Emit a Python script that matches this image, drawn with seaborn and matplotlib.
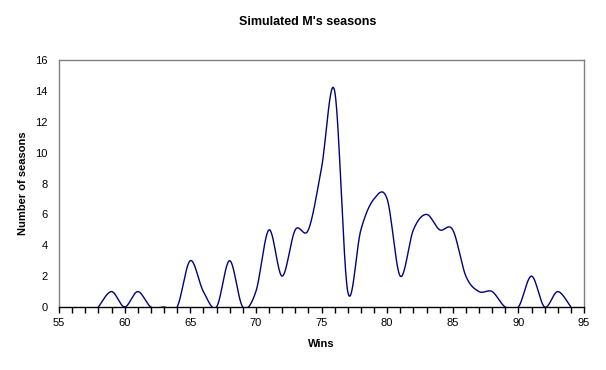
"""Simulated M's seasons - smoothed win distribution (Excel-style line)"""
import numpy as np
import pandas as pd
import matplotlib
matplotlib.use('Agg')
import matplotlib.pyplot as plt
from matplotlib.ticker import MultipleLocator
import seaborn as sns

# ===== DATA =====
wins = [58, 59, 60, 61, 62, 63, 64, 65, 66, 67, 68, 69, 70, 71, 72, 73, 74, 75,
        76, 77, 78, 79, 80, 81, 82, 83, 84, 85, 86, 87, 88, 89, 90, 91, 92, 93, 94]
seasons = [0, 1, 0, 1, 0, 0, 0, 3, 1, 0, 3, 0, 1, 5, 2, 5, 5, 9,
           14, 1, 5, 7, 7, 2, 5, 6, 5, 5, 2, 1, 1, 0, 0, 2, 0, 1, 0]
x_ticks = [55, 60, 65, 70, 75, 80, 85, 90, 95]
y_ticks = [0, 2, 4, 6, 8, 10, 12, 14, 16]


def smooth(x, y, n=24):
    # Catmull-Rom curve through the points, like Excel's "smoothed line"
    x = np.asarray(x, float)
    y = np.asarray(y, float)
    px = np.concatenate([[x[0]], x, [x[-1]]])
    py = np.concatenate([[y[0]], y, [y[-1]]])
    t = np.linspace(0, 1, n, endpoint=False)
    h00 = 2 * t**3 - 3 * t**2 + 1
    h10 = t**3 - 2 * t**2 + t
    h01 = -2 * t**3 + 3 * t**2
    h11 = t**3 - t**2
    xs, ys = [], []
    for i in range(1, len(px) - 2):
        mx0 = (px[i + 1] - px[i - 1]) / 2
        mx1 = (px[i + 2] - px[i]) / 2
        my0 = (py[i + 1] - py[i - 1]) / 2
        my1 = (py[i + 2] - py[i]) / 2
        xs.append(h00 * px[i] + h10 * mx0 + h01 * px[i + 1] + h11 * mx1)
        ys.append(h00 * py[i] + h10 * my0 + h01 * py[i + 1] + h11 * my1)
    xs.append([x[-1]])
    ys.append([y[-1]])
    return np.concatenate(xs), np.concatenate(ys)


sx, sy = smooth(wins, seasons)
df = pd.DataFrame({'Wins': sx, 'Seasons': sy})

# ===== PLOT =====
sns.set_style('white')
plt.rcParams['font.family'] = ['Liberation Sans', 'DejaVu Sans']
plt.rcParams.update({'text.color': 'black', 'axes.labelcolor': 'black',
                     'xtick.color': 'black', 'ytick.color': 'black'})

fig = plt.figure(figsize=(6.06, 3.70), dpi=100)
ax = fig.add_axes([59 / 606, 1 - 307 / 370, (584 - 59) / 606, (307 - 60) / 370])

sns.lineplot(data=df, x='Wins', y='Seasons', ax=ax, color='#000080',
             linewidth=1.0, sort=False, estimator=None)

ax.set_xlim(55, 95)
ax.set_ylim(0, 16)
ax.set_xticks(x_ticks)
ax.set_yticks(y_ticks)
ax.xaxis.set_minor_locator(MultipleLocator(1))
ax.tick_params(axis='x', which='both', direction='out', length=4, width=1,
               color='black', labelsize=8, pad=4, bottom=True)
ax.tick_params(axis='y', length=0, labelsize=8, pad=8)

for side in ['left', 'top', 'right']:
    ax.spines[side].set_color('#808080')
    ax.spines[side].set_linewidth(1)
ax.spines['bottom'].set_color('black')
ax.spines['bottom'].set_linewidth(1)
ax.spines['bottom'].set_zorder(3)

ax.set_xlabel('Wins', fontsize=8, fontweight='bold', labelpad=8)
ax.set_ylabel('Number of seasons', fontsize=8, fontweight='bold', labelpad=5)
fig.text(0.507, 1 - 22 / 370, "Simulated M's seasons", ha='center', va='center',
         fontsize=9, fontweight='bold')

plt.savefig('out.png', dpi=100)
plt.close()
